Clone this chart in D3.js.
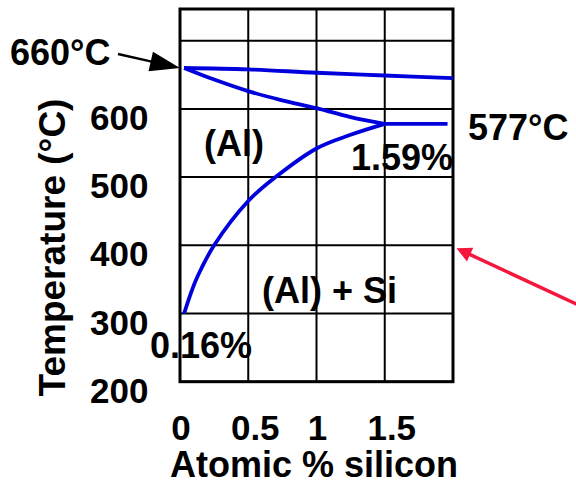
<!DOCTYPE html>
<html>
<head>
<meta charset="utf-8">
<script src="https://cdn.jsdelivr.net/npm/d3@7"></script>
<style>
  body { margin: 0; background: #fff; }
  text { font-family: Arial, "Liberation Sans", sans-serif; font-weight: bold; fill: #000; }
</style>
</head>
<body>
<div id="container"></div>
<script>
/** CONSTANTS AND GLOBALS */
const width = 576,
  height = 485;

const blue = "#0000dc";
const red = "#f5163c";

/** DATA */
const xTicks = [0, 0.5, 1, 1.5];
const xTickLabels = ["0", "0.5", "1", "1.5"];
const yGrid = [200, 300, 400, 500, 600, 700];
const yTickLabels = [200, 300, 400, 500, 600];

// top line from the melting point of Al
const liquidusSi = [0.03, 0.5, 1.0, 1.5, 2.0];
const liquidusT = [660, 658, 653, 649, 645];

// curve from 660 down to the eutectic point
const solidusSi = [0.03, 0.25, 0.5, 0.74, 1.0, 1.25, 1.5];
const solidusT = [660, 643, 626, 613, 601, 588, 578];

// solubility curve (Al) / (Al) + Si
const solvusSi = [0.03, 0.08, 0.13, 0.25, 0.5, 0.7, 1.0, 1.25, 1.5];
const solvusT = [300, 330, 355, 400, 465, 500, 542, 562, 578];

// eutectic horizontal
const eutecticSi = [1.5, 1.96];
const eutecticT = [578, 578];

/** SCALES */
const x = d3.scaleLinear().domain([0, 2]).range([180, 453]);
const y = d3.scaleLinear().domain([200, 700]).range([381.7, 40.7]);
const frameTop = 9;

const svg = d3.select("#container")
  .append("svg")
  .attr("width", width)
  .attr("height", height);

// grid
svg.append("g")
  .selectAll("line.h")
  .data(yGrid)
  .join("line")
  .attr("x1", x(0)).attr("x2", x(2))
  .attr("y1", d => y(d)).attr("y2", d => y(d))
  .attr("stroke", "#000").attr("stroke-width", 2);

svg.append("g")
  .selectAll("line.v")
  .data(xTicks.slice(1))
  .join("line")
  .attr("x1", d => x(d)).attr("x2", d => x(d))
  .attr("y1", frameTop).attr("y2", y(200))
  .attr("stroke", "#000").attr("stroke-width", 2);

// frame
svg.append("rect")
  .attr("x", x(0)).attr("y", frameTop)
  .attr("width", x(2) - x(0)).attr("height", y(200) - frameTop)
  .attr("fill", "none").attr("stroke", "#000").attr("stroke-width", 3);

// tick labels
svg.append("g")
  .selectAll("text")
  .data(yTickLabels)
  .join("text")
  .attr("x", 148.5)
  .attr("y", d => y(d) + 21)
  .attr("text-anchor", "end")
  .attr("font-size", 35)
  .text(d => d);

svg.append("g")
  .selectAll("text")
  .data(xTicks)
  .join("text")
  .attr("x", (d, i) => x(d) + (xTickLabels[i].includes(".") ? 7 : 1))
  .attr("y", 440)
  .attr("text-anchor", "middle")
  .attr("font-size", 35)
  .text((d, i) => xTickLabels[i]);

// axis titles
svg.append("text")
  .attr("x", 314).attr("y", 477)
  .attr("text-anchor", "middle")
  .attr("font-size", 36)
  .text("Atomic % silicon");

svg.append("text")
  .attr("transform", "translate(65,247.5) rotate(-90)")
  .attr("text-anchor", "middle")
  .attr("font-size", 37)
  .text("Temperature (°C)");

// phase boundaries
const lineGen = d3.line()
  .x(d => x(d[0]))
  .y(d => y(d[1]))
  .curve(d3.curveCatmullRom);

const curves = [
  [liquidusSi, liquidusT],
  [solidusSi, solidusT],
  [solvusSi, solvusT],
  [eutecticSi, eutecticT]
];

svg.append("g")
  .selectAll("path")
  .data(curves.map(c => d3.zip(c[0], c[1])))
  .join("path")
  .attr("d", lineGen)
  .attr("fill", "none")
  .attr("stroke", blue)
  .attr("stroke-width", 3.8)
  .attr("stroke-linejoin", "round");

// labels
const labels = [
  { t: "660°C", x: 10, y: 65 },
  { t: "577°C", x: 468, y: 140 },
  { t: "(Al)", x: 204, y: 156 },
  { t: "1.59%", x: 351, y: 170 },
  { t: "(Al) + Si", x: 262, y: 303 },
  { t: "0.16%", x: 150, y: 358 }
];

svg.append("g")
  .selectAll("text")
  .data(labels)
  .join("text")
  .attr("x", d => d.x)
  .attr("y", d => d.y)
  .attr("font-size", 36)
  .text(d => d.t);

// arrows
function arrow(x1, y1, x2, y2, color, w, headLen, headHalf) {
  const a = Math.atan2(y2 - y1, x2 - x1);
  const bx = x2 - headLen * Math.cos(a),
    by = y2 - headLen * Math.sin(a);
  svg.append("line")
    .attr("x1", x1).attr("y1", y1)
    .attr("x2", bx + Math.cos(a)).attr("y2", by + Math.sin(a))
    .attr("stroke", color).attr("stroke-width", w);
  const px = -Math.sin(a) * headHalf,
    py = Math.cos(a) * headHalf;
  svg.append("path")
    .attr("d", `M${x2},${y2}L${bx + px},${by + py}L${bx - px},${by - py}Z`)
    .attr("fill", color);
}

arrow(118, 54, x(0), y(660), "#000", 2.5, 30, 10);
arrow(600, 315, x(2) + 3.5, y(400) + 3, red, 3.5, 15, 7.5);
</script>
</body>
</html>
